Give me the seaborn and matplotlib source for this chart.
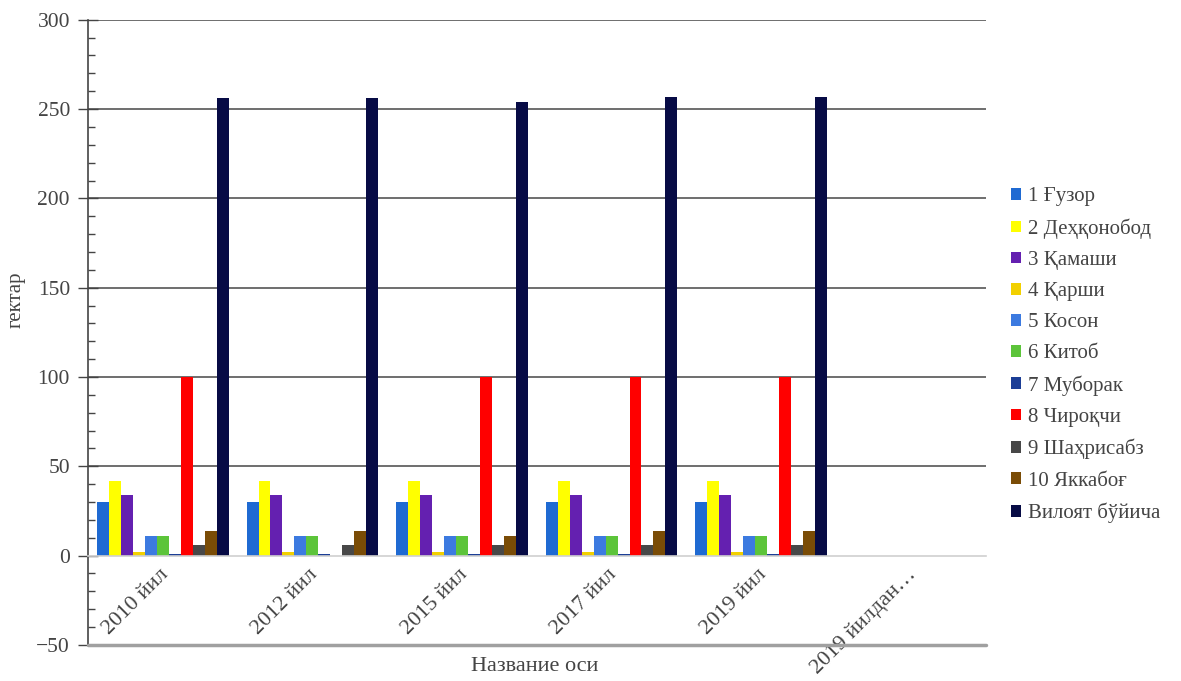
import matplotlib
matplotlib.use("Agg")
import matplotlib.pyplot as plt
import matplotlib.transforms as mtransforms
import seaborn as sns
import pandas as pd
from matplotlib.ticker import MultipleLocator
from matplotlib.patches import Patch

years = ["2010 йил", "2012 йил", "2015 йил", "2017 йил", "2019 йил", "2019 йилдан…"]
districts = ["1 Ғузор", "2 Деҳқонобод", "3 Қамаши", "4 Қарши", "5 Косон", "6 Китоб",
             "7 Муборак", "8 Чироқчи", "9 Шаҳрисабз", "10 Яккабоғ", "Вилоят бўйича"]

guzor       = [30, 30, 30, 30, 30, 0]
dehqonobod  = [42, 42, 42, 42, 42, 0]
qamashi     = [34, 34, 34, 34, 34, 0]
qarshi      = [2, 2, 2, 2, 2, 0]
koson       = [11, 11, 11, 11, 11, 0]
kitob       = [11, 11, 11, 11, 11, 0]
muborak     = [1, 1, 1, 1, 1, 0]
chiroqchi   = [100, 0, 100, 100, 100, 0]
shahrisabz  = [6, 6, 6, 6, 6, 0]
yakkabog    = [14, 14, 11, 14, 14, 0]
viloyat     = [256, 256, 254, 257, 257, 0]

series = [guzor, dehqonobod, qamashi, qarshi, koson, kitob, muborak,
          chiroqchi, shahrisabz, yakkabog, viloyat]
colors = ["#1F6AD2", "#FFFF00", "#6420B0", "#F2D000", "#3C7AE0", "#5CC43A",
          "#1C3E96", "#FF0000", "#484848", "#7A4C06", "#070B45"]

rows = []
for d, vals in zip(districts, series):
    for y, v in zip(years, vals):
        rows.append({"year": y, "district": d, "value": v})
df = pd.DataFrame(rows)

sns.set_style("white")
plt.rcParams["font.family"] = ["Liberation Serif", "DejaVu Serif"]

fig = plt.figure(figsize=(11.81, 6.81), dpi=100)
ax = fig.add_axes([0.0745, 0.053, 0.760, 0.918])

for g in range(50, 301, 50):
    ax.axhline(g, color="#555555", lw=1.2, zorder=0)
ax.axhline(-50, color="#a0a0a0", lw=2.5, zorder=3, clip_on=False)

sns.barplot(data=df, x="year", y="value", hue="district", palette=colors,
            hue_order=districts, order=years, width=0.88, saturation=1,
            linewidth=0, ax=ax, legend=False, zorder=2)

ax.set_ylim(-50, 300)
ax.set_xlim(-0.5, len(years) - 0.5)
ax.yaxis.set_major_locator(MultipleLocator(50))
ax.yaxis.set_minor_locator(MultipleLocator(10))
ax.tick_params(axis="y", which="major", direction="inout", length=14, width=1,
               color="#444444", labelsize=15.5, labelcolor="#444444", left=True, pad=6)
ax.tick_params(axis="y", which="minor", direction="in", length=5, width=1,
               color="#444444", left=True)
ax.tick_params(axis="x", length=0, labelsize=16, labelcolor="#444444", pad=7)

ax.spines["bottom"].set_position(("data", 0))
ax.spines["bottom"].set_color("#d0d0d0")
ax.spines["bottom"].set_linewidth(1.2)
for s in ["top", "right"]:
    ax.spines[s].set_visible(False)
ax.spines["left"].set_color("#444444")
ax.spines["left"].set_linewidth(1.2)

offset = mtransforms.ScaledTranslation(-0.04, 0, fig.dpi_scale_trans)
for lab in ax.get_xticklabels():
    lab.set_rotation(45)
    lab.set_ha("right")
    lab.set_va("top")
    lab.set_rotation_mode("anchor")
    lab.set_transform(lab.get_transform() + offset)

ax.set_xlabel("")
ax.set_ylabel("")
fig.text(0.453, 0.022, "Название оси", fontsize=16, color="#444444",
         ha="center", va="center")
fig.text(0.014, 0.56, "гектар", fontsize=15, color="#444444",
         ha="center", va="center", rotation=90)

handles = [Patch(facecolor=c, edgecolor="none") for c in colors]
fig.legend(handles, districts, loc="upper left", bbox_to_anchor=(0.856, 0.725),
           frameon=False, fontsize=15, handlelength=0.5, handleheight=0.5,
           handletextpad=0.3, labelspacing=0.58, labelcolor="#444444",
           borderaxespad=0, borderpad=0)

fig.savefig("out.png", dpi=100)
